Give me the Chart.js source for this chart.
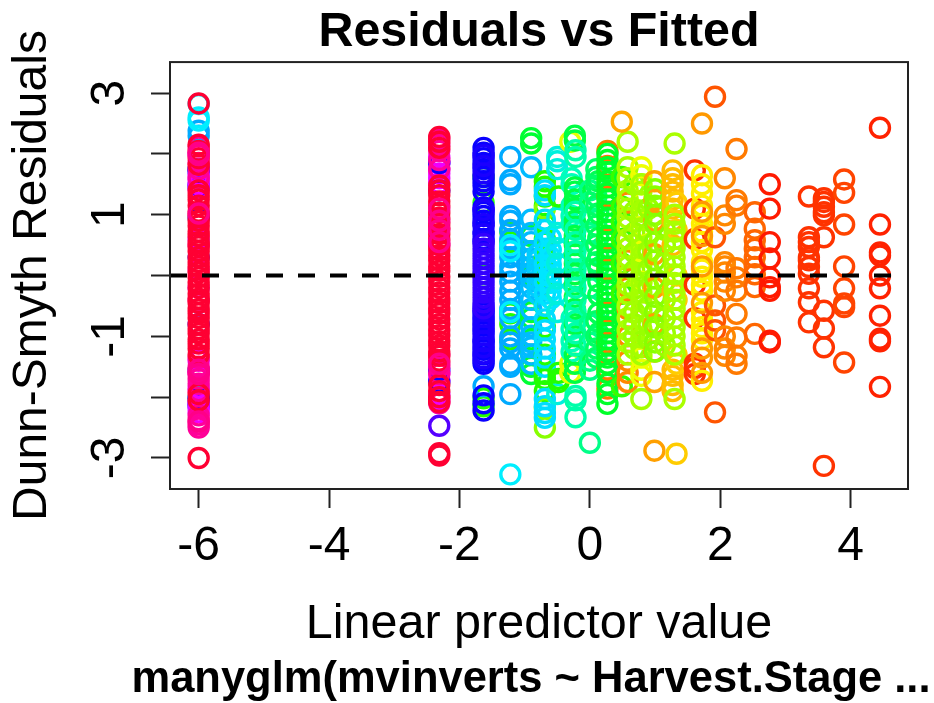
<!DOCTYPE html>
<html>
<head>
<meta charset="utf-8">
<title>Residuals vs Fitted</title>
<script src="https://cdn.jsdelivr.net/npm/chart.js@4"></script>
<style>
  html, body { margin: 0; padding: 0; background: #fff; }
  canvas { display: block; filter: blur(0.45px); }
</style>
</head>
<body>
<canvas id="chart" width="934" height="703"></canvas>
<script>
// Residual columns, named by species colour and fitted value
const xTicks = [-6, -4, -2, 0, 2, 4];
const yTicks = [-3, -2, -1, 0, 1, 2, 3];
const zeroLineX = [-6.44, 4.72];

const azureA = [2.38, 2.3, 1.75, -2.0];
const cyanA = [2.82, 2.6, 2.55];
const blueA = [1.75, 1.7, 1.5, 1.45, 0.95, 0.3, -0.8, -1.55, -2.02, -2.1, -2.15];
const magentaA = [2.0, 1.65, 1.58, 1.5, 1.42, 0.6, -0.2, -1.4, -1.6, -1.85, -2.1, -2.18, -2.25];
const pinkA = [2.12, 1.85, 1.75, 1.6, 0.5, 0.1, -0.4, -1.35, -1.5, -1.6, -1.7, -1.78, -1.9, -2.3, -2.38, -2.45, -2.5];
const redA = [2.83, 2.15, 2.05, 1.93, 1.82, 1.4, 1.32, 1.25, 1.15, 1.05, 0.98, 0.9, 0.82, 0.72, 0.65, 0.55, 0.48, 0.4, 0.3, 0.22, 0.15, 0.05, -0.03, -0.12, -0.2, -0.3, -0.38, -0.45, -0.55, -0.62, -0.7, -0.8, -0.88, -0.95, -1.05, -1.12, -1.2, -1.3, -1.95, -2.05, -3.0];
const pinkTopA = [2.02, 1.98, 1.02, -1.55, -1.62, -2.4];

const magentaB = [1.95, 1.85, 1.75, 1.68, 1.6, 1.52, 0.5, -1.6, -1.72, -1.95, -2.05];
const blueB = [1.85, 1.4, -1.55, -1.75];
const purpleB = [-2.47];
const pinkB = [2.25, 2.15, 2.05, 1.9, 1.75, -1.3, -1.5, -1.62, -2.0, -2.1];
const redB = [2.28, 2.2, 2.1, 1.48, 1.4, 1.32, 1.22, 1.15, 1.03, 0.95, 0.85, 0.78, 0.68, 0.6, 0.5, 0.42, 0.33, 0.25, 0.15, 0.08, -0.02, -0.1, -0.2, -0.28, -0.38, -0.45, -0.55, -0.62, -0.72, -0.8, -0.9, -0.98, -1.08, -1.15, -1.25, -1.32, -1.4, -1.8, -1.9, -2.0, -2.08, -2.92, -2.96];
const pinkTopB = [1.1, 0.9, 0.75, 0.55, -1.45];

const greenC = [1.62, 1.2, 0.02, -2.02, -2.15];
const azureC = [-1.82];
const blueC = [2.1, 2.02, 1.93, 1.85, 1.75, 1.62, 1.55, 1.48, 1.38, 1.12, 1.05, 0.98, 0.9, 0.82, 0.72, 0.6, -0.62, -0.72, -0.82, -0.92, -1.05, -1.12, -1.22, -1.3, -1.4, -1.45, -1.97, -2.1, -2.22];
const blueC2 = [1.98, 1.8, 1.68, 1.08, 0.85, 0.68, 0.56, -0.5, -0.58, -0.68, -0.78, -0.88, -0.98, -1.08, -1.18, -1.28, -1.36];
const indigoC = [0.52, 0.44, 0.36, 0.28, 0.2, 0.12, 0.04, -0.04, -0.12, -0.2, -0.28, -0.36, -0.44, -0.54];

const greenD = [0.72, 0.55, -0.62, -0.8, -1.05];
const azureD = [1.95, 1.57, 1.5, 0.98, 0.9, 0.75, 0.6, 0.45, 0.3, 0.15, 0.05, -0.1, -0.25, -0.4, -0.55, -0.7, -1.0, -1.1, -1.2, -1.45, -1.5, -1.95];
const cyanD = [0.5, 0.4, -0.6, -3.27];

const greenE = [2.26, 2.17, 0.65, 0.4, 0.0, -0.6, -0.7, -1.05, -1.3, -1.5, -1.62];
const azureE = [1.78, 0.92, 0.7, 0.55, 0.4, 0.28, 0.15, 0.05, -0.05, -0.2, -0.4, -0.55, -0.85, -0.99, -1.1, -1.18, -1.3, -1.45];
const azureE2 = [0.35, 0.25, 0.12, 0.02, -0.08, -0.18, -0.3];
const greenF = [1.55, 1.46, 1.3, 1.15, 0.85, 0.6, 0.3, 0.0, -0.5, -0.85, -1.3, -1.62, -1.7, -1.9];
const limeF = [1.1, -2.18, -2.5];
const cyanF = [1.4, 1.32, 0.92, 0.75, 0.55, 0.38, 0.2, 0.05, -0.1, -0.3, -0.5, -0.72, -0.9, -1.05, -1.2, -1.35, -1.5, -2.03, -2.15, -2.26, -2.34];
const cyanF2 = [0.62, 0.42, 0.3, 0.18, 0.08, -0.02, -0.12, -0.25, -0.38];
const tealG = [1.95, 1.88, 1.75, 0.95, 0.7, 0.45, 0.2, -0.05, -0.3, -0.6, -1.95];
const greenG = [1.3, -1.6, -1.7, -1.75];
const yellowH = [2.2, -1.45, -1.6];
const tealH2 = [1.6, 1.5, 1.15, 0.98, 0.85, -0.7, -0.88, -1.08, -1.25];
const greenI = [2.3, 2.22, 1.45, 1.38, 1.25, 1.1, 0.9, 0.8, 0.65, 0.5, 0.35, 0.2, 0.02, -0.15, -0.35, -0.55, -0.8, -1.0, -1.3, -1.45, -1.6];
const mintI = [2.06, 1.95, 1.05, 0.75, 0.55, 0.4, 0.25, 0.1, -0.05, -0.2, -0.4, -0.6, -0.75, -0.95, -1.15, -1.98, -2.05, -2.33];
const mintJ = [1.4, 1.2, 0.95, 0.7, 0.4, 0.1, -0.2, -0.5, -0.8, -1.1, -1.4, -1.55, -2.75];
const greenJ2 = [1.55, 1.02, 0.62, 0.32, 0.12, -0.1, -0.32, -0.62, -0.95];
const mintJ3 = [1.75, 1.62, 1.48, 1.3, 1.15, 0.82, 0.5, 0.22, -0.75, -1.0, -1.2, -1.35];
const orangeK = [2.05, 1.8, 1.3, 0.6, 0.1, -0.6, -1.1, -1.55, -1.86];
const greenK = [2.0, 1.9, 1.78, 1.7, 1.55, 1.45, 1.35, 1.25, 1.15, 1.05, 0.95, 0.85, 0.75, 0.65, 0.55, 0.45, 0.35, 0.25, 0.15, 0.05, -0.05, -0.15, -0.25, -0.35, -0.45, -0.55, -0.65, -0.75, -0.85, -0.95, -1.05, -1.15, -1.25, -1.35, -1.45, -1.6, -1.78, -1.95, -2.11];
const greenL = [1.62, 1.13, 0.88, 0.6, 0.2, -0.3, -1.82];

const orangeM = [1.2, 0.6, 0.25, -0.2, -0.55, -1.0, -1.4, -1.6, -1.75];
const limeM = [2.2, 1.78, 1.6, 1.4, 1.25, 1.1, 0.95, 0.8, 0.6, 0.45, 0.3, 0.15, 0.0, -0.15, -0.3, -0.5, -0.7, -0.9, -1.1, -1.3];
const limeM2 = [1.5, 1.05, 0.7, 0.38, 0.08, -0.22, -0.6, -0.8, -1.0, -1.2];
const orangeN = [2.53];
const yellowO = [1.78, 1.65, 1.5, 1.2, 0.8, 0.4, -0.1, -1.35, -1.55, -1.65];
const limeO = [1.5, 1.38, 1.22, 1.05, 0.92, 0.78, 0.62, 0.45, 0.32, 0.18, 0.02, -0.12, -0.28, -0.42, -0.58, -0.72, -0.88, -1.02, -1.18, -1.3, -2.03];
const limeO2 = [1.1, 0.7, 0.4, 0.1, -0.2, -0.5, -0.8, -1.05];
const orangeP = [1.55, 1.25, 0.9, 0.35, -0.2, -0.8, -1.25, -1.75, -2.88];
const limeP = [1.42, 1.3, 1.15, 1.0, 0.85, 0.55, 0.25, -0.05, -0.35, -0.6, -0.85, -1.1, -1.25];
const limeP2 = [0.75, 0.5, 0.2, -0.1, -0.4, -0.7, -0.95, -1.15];
const amberQ = [1.73, 1.6, 1.5, 1.38, 1.25, 1.1, 0.9, 0.5, -0.25, -1.55, -1.65, -1.8, -1.9];
const yellowQ = [1.2, 0.75, 0.0, -0.4, -1.3, -1.45, -2.93];
const limeQ = [2.17, 1.0, 0.85, 0.72, 0.6, 0.45, 0.3, 0.15, 0.02, -0.12, -0.25, -0.4, -0.55, -0.7, -0.85, -1.0, -1.15, -1.3, -2.03];
const redR = [1.73, 1.1, 0.6, -0.15, -0.7, -1.45, -1.52, -1.62];
const yellowS = [1.65, 1.5, 1.35, 1.15, 1.0, 0.85, 0.72, 0.55, 0.42, 0.22, 0.1, -0.02, -0.15, -0.25, -0.6, -0.72, -0.85, -0.95, -1.05, -1.73];
const orangeT = [2.5, 1.05, 0.65, 0.15, -0.45, -1.2, -1.35, -1.6];
const orangeU = [2.94, 0.63, -0.49, -0.74, -0.9, -2.25];
const orangeV = [1.6, 0.99, 0.85, 0.22, 0.15, 0.05, -0.1, -0.25, -1.0, -1.2, -1.32];
const orangeW = [2.08, 1.24, 1.15, 0.12, -0.03, -0.25, -0.63, -1.02, -1.32, -1.45];
const orangeX = [1.04, 0.77, 0.58, 0.44, 0.3, 0.14, 0.02, -0.19, -0.96];
const redY = [1.5, 1.1, 0.55, 0.28, -0.03, -0.19, -0.25, -1.07, -1.1];
const redZ1 = [1.3, 0.63, 0.55, 0.47, 0.3, 0.25, 0.14, 0.03, -0.21, -0.44, -0.77];
const redZ2 = [1.27, 1.21, 1.13, 1.04, 0.99, 0.63, -0.58, -0.87, -1.18, -3.13];
const redZ3 = [1.58, 1.36, 0.84, 0.15, -0.21, -0.46, -0.52, -1.43];
const redZ4 = [2.43, 0.84, 0.38, 0.33, 0.0, -0.21, -0.66, -1.04, -1.08, -1.83];

const groupX = [-6, -6, -6, -6, -6, -6, -6, -2.31, -2.31, -2.31, -2.31, -2.31, -2.31, -1.63, -1.63, -1.63, -1.63, -1.63, -1.22, -1.22, -1.22, -0.9, -0.9, -0.8, -0.69, -0.69, -0.69, -0.6, -0.5, -0.48, -0.3, -0.28, -0.23, -0.22, 0, 0.13, 0.1, 0.27, 0.27, 0.49, 0.58, 0.58, 0.68, 0.49, 0.79, 0.79, 0.9, 0.99, 1.0, 1.15, 1.27, 1.33, 1.3, 1.61, 1.72, 1.72, 1.92, 2.07, 2.25, 2.53, 2.76, 3.36, 3.59, 3.9, 4.45];
const groupY = [azureA, cyanA, blueA, magentaA, pinkA, redA, pinkTopA, magentaB, blueB, purpleB, pinkB, redB, pinkTopB, greenC, azureC, blueC, blueC2, indigoC, greenD, azureD, cyanD, greenE, azureE, azureE2, greenF, limeF, cyanF, cyanF2, tealG, greenG, yellowH, tealH2, greenI, mintI, mintJ, greenJ2, mintJ3, orangeK, greenK, greenL, orangeM, limeM, limeM2, orangeN, yellowO, limeO, limeO2, orangeP, limeP, limeP2, amberQ, yellowQ, limeQ, redR, yellowS, orangeT, orangeU, orangeV, orangeW, orangeX, redY, redZ1, redZ2, redZ3, redZ4];
const groupColor = ['#00aaff', '#00eeff', '#1100ff', '#ee00ff', '#ff0099', '#ff0033', '#ff0088', '#ee00ff', '#1100ff', '#5500ff', '#ff0099', '#ff0033', '#ff0088', '#22ff00', '#00aaff', '#0a00ff', '#1a00ff', '#3300ff', '#22ff00', '#00aaff', '#00eeff', '#00ff33', '#00bbff', '#00ccff', '#22ff00', '#88ff00', '#00ddff', '#00e6ff', '#00f0dd', '#22ff00', '#e6ff00', '#00ffbb', '#00ff44', '#00ffaa', '#00ff88', '#00ff55', '#00ff66', '#ff7700', '#00ff2a', '#33ff00', '#ff8800', '#aaff00', '#99ff00', '#ffa600', '#eeff00', '#a4ff00', '#99ff00', '#ffa000', '#88ff00', '#99ff00', '#ffbb00', '#ffcc00', '#aaff00', '#ff3300', '#ffee00', '#ff9900', '#ff5500', '#ff8800', '#ff7a00', '#ff6600', '#ff1a00', '#ff3300', '#ff3300', '#ff4400', '#ff2200'];

const frame = {
  id: 'frame',
  afterDraw(chart) {
    const { ctx, chartArea: a } = chart;
    ctx.save();
    ctx.strokeStyle = '#222';
    ctx.lineWidth = 2;
    ctx.strokeRect(a.left, a.top, a.right - a.left, a.bottom - a.top);
    ctx.fillStyle = '#000';
    ctx.font = 'bold 43.5px "Liberation Sans"';
    ctx.textAlign = 'center';
    ctx.textBaseline = 'middle';
    ctx.fillText('manyglm(mvinverts ~ Harvest.Stage ...', 531, 680);
    ctx.restore();
  },
};

const datasets = groupX.map((x, i) => ({
  data: groupY[i].map(y => ({ x, y })),
  borderColor: groupColor[i],
  backgroundColor: 'transparent',
  borderWidth: 3.4,
  pointRadius: 9.5,
  order: groupX.length - i,
}));
datasets.push({
  type: 'line',
  data: zeroLineX.map(x => ({ x, y: 0 })),
  borderColor: '#000',
  borderWidth: 4,
  borderDash: [17, 15],
  pointRadius: 0,
  order: -1,
});

const grid = { drawOnChartArea: false, tickLength: 19, tickColor: '#222', tickWidth: 2 };

new Chart(document.getElementById('chart').getContext('2d'), {
  type: 'scatter',
  data: { datasets },
  plugins: [frame],
  options: {
    responsive: false,
    animation: false,
    layout: { padding: { right: 26, bottom: 44 } },
    plugins: {
      legend: { display: false },
      tooltip: { enabled: false },
      title: {
        display: true,
        text: 'Residuals vs Fitted',
        fullSize: false,
        color: '#000',
        font: { family: '"Liberation Sans"', size: 48.4, weight: 'bold' },
        padding: { top: 4, bottom: 0 },
      },
    },
    scales: {
      x: {
        min: -6.44, max: 4.88,
        grid,
        border: { display: false },
        afterBuildTicks: s => { s.ticks = xTicks.map(value => ({ value })); },
        afterFit: s => { s.height = 170; },
        ticks: { color: '#000', padding: 10, maxRotation: 0, font: { family: '"Liberation Sans"', size: 48 } },
        title: {
          display: true,
          text: 'Linear predictor value',
          color: '#000',
          font: { family: '"Liberation Sans"', size: 48.5 },
          padding: { top: 0, bottom: 5 },
        },
      },
      y: {
        min: -3.51, max: 3.51,
        grid,
        border: { display: false },
        afterBuildTicks: s => { s.ticks = yTicks.map(value => ({ value })); },
        afterFit: s => { s.width = 170; },
        ticks: {
          color: '#000',
          padding: 19,
          minRotation: 90,
          maxRotation: 90,
          crossAlign: 'center',
          autoSkip: false,
          font: { family: '"Liberation Sans"', size: 48 },
          callback: v => (Math.abs(v) % 2 === 1 ? String(v) : ''),
        },
        title: {
          display: true,
          text: 'Dunn-Smyth Residuals',
          color: '#000',
          font: { family: '"Liberation Sans"', size: 48 },
          padding: { top: 4, bottom: 0 },
        },
      },
    },
  },
});
</script>
</body>
</html>
